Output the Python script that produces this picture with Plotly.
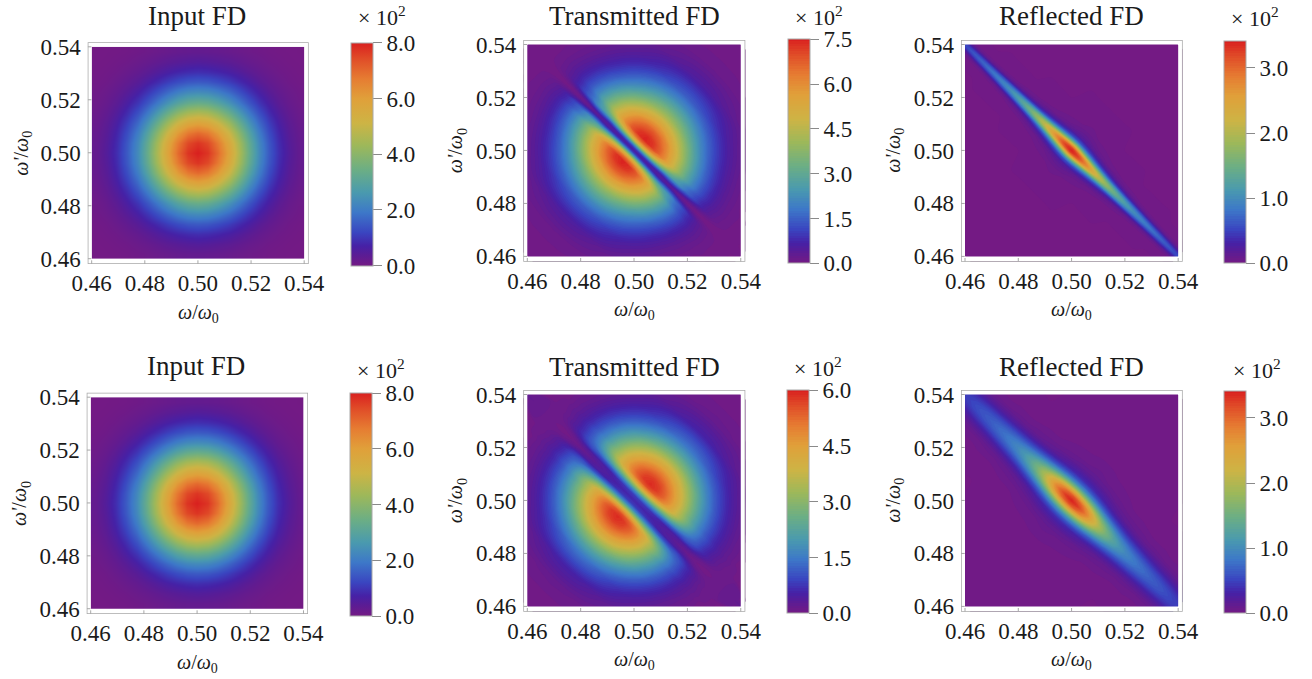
import plotly.graph_objects as go

AXIS_TICKS = [0.46, 0.48, 0.50, 0.52, 0.54]

# Every number below is read by eye from the picture, in the units of the colour bars (x 1).
# INPUT_ROWS: rows indexed by a = |k + l|, entries by b = |k - l| (cell indices from the centre).
INPUT_ROWS = [
 [800,747,609,432,268,145,68,28,10,3,1],
 [773,674,513,340,197,99,43,17,6,2],
 [747,698,568,404,250,135,64,26,9,3],
 [674,588,448,297,172,86,38,15,5],
 [609,568,463,329,204,110,52,21,8],
 [513,448,340,226,130,66,29,11],
 [432,404,329,233,145,78,37,15],
 [340,297,226,150,86,43,19],
 [268,250,204,145,90,48,23],
 [197,172,130,86,51,25],
 [145,135,110,78,48,26],
 [99,86,66,43,25],
 [68,64,52,37,23],
 [43,38,29,19],
 [28,26,21,15],
 [17,15,11],
 [10,9,8],
 [6,5],
 [3,3],
 [2],
 [1],
]

# The other panels: one row per offset from the ridge (omega + omega' - 1),
# one entry per step of 0.005 along it (omega - omega').
ALONG_RIDGE = [0.005 * i for i in range(17)]

T1_ACROSS = [0, .001, .002, .003, .004, .006, .008, .01, .014, .017, .02, .025, .03, .035, .04, .05, .06, .07, .08]
T1_ROWS = [
 [60,58,56,52,46,38,30,22,14,8,4,3,3,3,4,5,6],
 [96,93,86,75,63,70,60,40,30,20,11,6,3,3,4,5,6],
 [192,187,173,151,125,130,115,85,60,42,25,14,8,4,4,5],
 [336,327,302,264,219,200,180,130,95,62,37,21,11,5,3],
 [472,460,424,371,308,270,230,165,120,78,46,26,14,7,3],
 [656,639,590,516,428,336,251,177,125,80,48,28,15,8,4],
 [747,728,672,588,488,383,286,202,135,86,51,30,16,8,4],
 [741,721,666,582,483,380,283,200,134,85,51,30,16,8],
 [681,663,613,536,445,349,261,184,124,78,47,27,14,8],
 [611,594,549,480,398,313,233,165,111,70,42,24,13],
 [537,523,483,423,351,275,206,145,97,62,37,21,11],
 [410,399,369,322,268,210,157,111,74,47,28,16],
 [306,298,275,240,199,157,117,83,55,35,21,12],
 [216,210,194,170,141,111,83,58,39,25,15],
 [145,141,130,114,94,74,55,39,26,17],
 [55,54,50,43,36,28,21,15,10,6],
 [17,16,15,13,11,9,6,5],
 [4,4,4,3],
 [1,1,1,1],
]

T2_ACROSS = [0, .002, .004, .006, .008, .01, .012, .014, .016, .02, .025, .03, .035, .04, .05, .06, .07, .08]
T2_ROWS = [
 [60,58,55,50,44,38,30,22,14,8,4,4,8,12,16,20,25],
 [80,78,72,63,52,47,43,38,35,22,11,8,8,12,16,20],
 [173,168,160,145,125,110,96,95,75,50,30,16,9,12,15,18],
 [323,315,295,265,240,200,161,125,100,65,40,22,11,11,14],
 [463,451,420,375,330,265,206,150,108,68,40,22,11,9],
 [560,545,505,445,385,305,228,162,111,71,42,24,13,8],
 [590,574,530,464,385,310,236,165,113,72,43,25,14,7],
 [584,569,525,459,381,299,223,158,106,67,40,23,12],
 [566,552,509,445,370,290,217,153,103,65,39,23,12],
 [506,492,454,397,330,259,193,137,92,58,35,20,11],
 [410,399,369,322,268,210,157,111,74,47,28,16],
 [306,298,275,240,199,157,117,83,55,35,21,12],
 [216,210,194,170,141,111,83,58,39,25,15],
 [145,141,130,114,94,74,55,39,26,17],
 [55,54,50,43,36,28,21,15,10,6],
 [17,16,15,13,11,9,6,5],
 [4,4,4,3],
 [1,1],
]

R1_ACROSS = [0, .001, .002, .003, .004, .005, .006, .008, .01, .014, .02, .03, .08]
R1_ROWS = [
 [340,322,285,245,210,180,155,135,118,105,95,87,80,73,66,60,54],
 [326,306,268,228,193,165,141,122,106,92,83,75,68,61,55,49,44],
 [279,258,219,181,151,126,107,90,78,67,58,50,44,39,34,29,25],
 [211,190,154,123,97,76,62,51,42,35,29,24,20,17,15,13,11],
 [153,132,105,78,59,45,34,27,21,17,13,10,9,7,6,5,4],
 [95,84,66,49,36,27,20,15,12,8,7,5,4,3,3,2],
 [58,52,40,29,21,16,11,8,6,4,3,2,2,2,1,1],
 [24,21,16,11,7,5,4,3,2,2,1,1,1,1,1],
 [14,12,8,6,4,3,2,2,1,1,1,1,1],
 [5,4,3,2,1,1,1,1],
 [2,1,1,1],
 [0],
 [0],
]

R2_ACROSS = [0, .002, .004, .006, .008, .01, .012, .016, .02, .03, .08]
R2_ROWS = [
 [340,325,290,242,195,158,130,110,96,86,78,72,66,61,56,50,45],
 [316,302,270,225,181,147,121,102,89,80,73,67,61,57,52,47,42],
 [255,244,218,182,146,119,98,83,72,65,59,54,50,46,42,38,34],
 [177,169,151,126,101,82,68,57,50,45,41,37,34,32,29,26,23],
 [109,104,93,77,62,51,42,35,31,28,25,23,21,20,18,16],
 [65,62,55,46,37,30,25,21,18,16,15,14,13,12,11],
 [37,36,32,27,21,17,14,12,11,9,9,8,7,7,6],
 [17,16,15,12,10,8,7,6,5,4,4,4,3,3],
 [9,8,7,6,5,4,3,3,2,2,2,2,2],
 [2,2,1,1,1,1,1,1,1],
 [0],
]

TITLES = ["Input FD", "Transmitted FD", "Reflected FD"] * 2
BAR_TICKS_INPUT = [0, 200, 400, 600, 800]
BAR_LABELS_INPUT = ["0.0", "2.0", "4.0", "6.0", "8.0"]
BAR_TICKS_TR_TOP = [0, 150, 300, 450, 600, 750]
BAR_LABELS_TR_TOP = ["0.0", "1.5", "3.0", "4.5", "6.0", "7.5"]
BAR_TICKS_TR_BOT = [0, 150, 300, 450, 600]
BAR_LABELS_TR_BOT = ["0.0", "1.5", "3.0", "4.5", "6.0"]
BAR_TICKS_REF = [0, 100, 200, 300]
BAR_LABELS_REF = ["0.0", "1.0", "2.0", "3.0"]

COLORS = [
 [0.00, "#741a84"], [0.05, "#5a1c95"], [0.09, "#4621a6"], [0.15, "#3a45c0"],
 [0.24, "#3d78c8"], [0.33, "#4a9aae"], [0.43, "#6bae85"], [0.54, "#9db85a"],
 [0.64, "#cdb445"], [0.75, "#e0a03a"], [0.84, "#e67c32"], [0.93, "#e04c28"], [1.00, "#d9201f"],
]

SERIF = "Liberation Serif"
INK = "#1a1a1a"
FRAME = "#a8a8a8"
W, H = 1312, 679
LOW, HIGH = 0.4585, 0.5417
Y_LOW = 0.458
LEVELS = 90


def unfold(rows):
    m = (len(rows) - 1) // 2
    z = []
    for l in range(-m, m + 1):
        line = []
        for k in range(-m, m + 1):
            a, b = abs(k + l), abs(k - l)
            row = rows[a]
            i = (b - a % 2) // 2
            line.append(row[i] if i < len(row) else 0)
        z.append(line)
    return z


def cell_centres(rows):
    m = (len(rows) - 1) // 2
    return [0.5 + i * 0.08 / (2 * m + 1) for i in range(-m, m + 1)]


def mirrored(values):
    return [-v for v in values[:0:-1]] + list(values)


def ridge_table(across, rows):
    full = []
    along = list(range(len(ALONG_RIDGE)))
    order_d = along[:0:-1] + along
    order_s = list(range(len(across)))[:0:-1] + list(range(len(across)))
    for j in order_d:
        full.append([rows[i][j] if j < len(rows[i]) else 0 for i in order_s])
    return full


PANELS = [
 dict(rows=INPUT_ROWS, zmax=800, ticks=BAR_TICKS_INPUT, labels=BAR_LABELS_INPUT,
      frame=(87.7, 308.7, 42.3, 264.0), bar=(350.7, 42.3, 265.7), tx=197, ty=16, cx=382, cy=16),
 dict(across=T1_ACROSS, rows=T1_ROWS, zmax=750, ticks=BAR_TICKS_TR_TOP, labels=BAR_LABELS_TR_TOP,
      frame=(523.3, 745.3, 40.0, 261.7), bar=(787.7, 39.3, 263.3), tx=634, ty=16, cx=819, cy=16),
 dict(across=R1_ACROSS, rows=R1_ROWS, zmax=341, ticks=BAR_TICKS_REF, labels=BAR_LABELS_REF,
      frame=(961.0, 1182.7, 40.0, 261.7), bar=(1224.0, 41.7, 263.3), tx=1071, ty=16, cx=1255, cy=17),
 dict(rows=INPUT_ROWS, zmax=800, ticks=BAR_TICKS_INPUT, labels=BAR_LABELS_INPUT,
      frame=(86.7, 308.0, 392.7, 614.0), bar=(349.7, 392.7, 616.0), tx=196, ty=366, cx=381, cy=369),
 dict(across=T2_ACROSS, rows=T2_ROWS, zmax=600, ticks=BAR_TICKS_TR_BOT, labels=BAR_LABELS_TR_BOT,
      frame=(523.3, 745.3, 390.0, 611.7), bar=(786.7, 390.0, 613.3), tx=634, ty=367, cx=818, cy=367),
 dict(across=R2_ACROSS, rows=R2_ROWS, zmax=341, ticks=BAR_TICKS_REF, labels=BAR_LABELS_REF,
      frame=(961.0, 1182.7, 390.0, 611.7), bar=(1224.0, 391.7, 613.3), tx=1071, ty=367, cx=1257, cy=369),
]

fig = go.Figure()
notes, shapes = [], []
for n, (p, title) in enumerate(zip(PANELS, TITLES), start=1):
    xa, ya = ("x", "y") if n == 1 else (f"x{n}", f"y{n}")
    x0, x1, y0, y1 = p["frame"]
    bx, by0, by1 = p["bar"]
    colorbar = dict(
        x=bx / W, xanchor="left", xpad=0, y=1 - by1 / H, yanchor="bottom", ypad=0,
        len=(by1 - by0) / H, lenmode="fraction", thickness=22, thicknessmode="pixels",
        outlinecolor=FRAME, outlinewidth=1, borderwidth=0,
        tickmode="array", tickvals=p["ticks"], ticktext=p["labels"],
        ticks="outside", ticklen=9, tickcolor="#8a8a8a", tickwidth=1,
        tickfont=dict(family=SERIF, size=23, color=INK),
    )
    if "across" not in p:
        xs = cell_centres(p["rows"])
        fig.add_trace(go.Heatmap(
            z=unfold(p["rows"]), x=xs, y=xs, xaxis=xa, yaxis=ya, zsmooth="best",
            zmin=0, zmax=p["zmax"], colorscale=COLORS, hoverinfo="skip", colorbar=colorbar,
        ))
    else:
        s = mirrored(p["across"])
        d = mirrored(ALONG_RIDGE)
        cx = [[0.5 + (si + dj) / 2 for si in s] for dj in d]
        cy = [[0.5 + (si - dj) / 2 for si in s] for dj in d]
        carpet = f"c{n}"
        hidden = dict(showgrid=False, showline=False, showticklabels="none", startline=False,
                      endline=False, minorgridcount=0, smoothing=0, tickmode="array",
                      tickvals=[], type="linear", title=dict(text=""))
        fig.add_trace(go.Carpet(a=s, b=d, x=cx, y=cy, carpet=carpet, xaxis=xa, yaxis=ya,
                                aaxis=hidden, baxis=hidden))
        fig.add_trace(go.Contourcarpet(
            a=s, b=d, z=ridge_table(p["across"], p["rows"]), carpet=carpet, xaxis=xa, yaxis=ya,
            autocontour=False, zauto=False, zmin=0, zmax=p["zmax"], colorscale=COLORS,
            contours=dict(start=0, end=p["zmax"], size=p["zmax"] / LEVELS, coloring="fill", showlines=False),
            line=dict(width=0), colorbar=colorbar,
        ))
    axis = dict(
        showgrid=False, zeroline=False, showline=False,
        tickmode="array", tickvals=AXIS_TICKS, tickformat=".2f", ticks="",
        tickfont=dict(family=SERIF, size=23, color=INK),
    )
    fig.update_layout({
        f"xaxis{'' if n == 1 else n}": dict(axis, domain=[x0 / W, x1 / W], range=[LOW, HIGH],
                                            anchor=ya, ticklabelstandoff=3),
        f"yaxis{'' if n == 1 else n}": dict(axis, domain=[1 - y1 / H, 1 - y0 / H], range=[Y_LOW, HIGH],
                                            anchor=xa, ticklabelstandoff=6),
    })
    # white margin inside the frame, the frame itself and its ticks
    line = dict(color=FRAME, width=1.5)
    base = dict(xref=xa, yref=ya, layer="above")
    for rx0, rx1, ry0, ry1 in [(LOW, 0.46, Y_LOW, HIGH), (0.54, HIGH, Y_LOW, HIGH),
                               (LOW, HIGH, Y_LOW, 0.46), (LOW, HIGH, 0.54, HIGH)]:
        shapes.append(dict(base, type="rect", x0=rx0, x1=rx1, y0=ry0, y1=ry1, fillcolor="white", line=dict(width=0)))
    shapes.append(dict(base, type="rect", x0=LOW, x1=HIGH, y0=Y_LOW, y1=HIGH, line=line))
    for t in AXIS_TICKS:
        shapes.append(dict(base, type="line", x0=t, x1=t, y0=Y_LOW, y1=Y_LOW + 0.0014, line=dict(color=FRAME, width=1)))
        shapes.append(dict(base, type="line", x0=LOW, x1=LOW + 0.0014, y0=t, y1=t, line=dict(color=FRAME, width=1)))
    mid_x, mid_y = (x0 + x1) / 2, (y0 + y1) / 2
    notes += [
        dict(text=title, x=p["tx"] / W, y=1 - p["ty"] / H, font=dict(size=27)),
        dict(text="\u00d7 10<sup>2</sup>", x=p["cx"] / W, y=1 - p["cy"] / H, font=dict(size=22)),
        dict(text="<i>\u03c9</i>/<i>\u03c9</i><sub>0</sub>", x=mid_x / W, y=1 - (y1 + 49) / H, font=dict(size=20)),
        dict(text="<i>\u03c9'</i>/<i>\u03c9</i><sub>0</sub>", x=(x0 - 66) / W, y=1 - mid_y / H, font=dict(size=20), textangle=-90),
    ]

for note in notes:
    note.update(xref="paper", yref="paper", showarrow=False, xanchor="center", yanchor="middle")
    note["font"].update(family=SERIF, color=INK)

fig.update_layout(width=W, height=H, margin=dict(l=0, r=0, t=0, b=0, autoexpand=False),
                  paper_bgcolor="white", plot_bgcolor="white", annotations=notes, shapes=shapes,
                  showlegend=False)
fig.write_html("out.html", config={"displayModeBar": False}, post_script="document.body.style.margin='0';")
